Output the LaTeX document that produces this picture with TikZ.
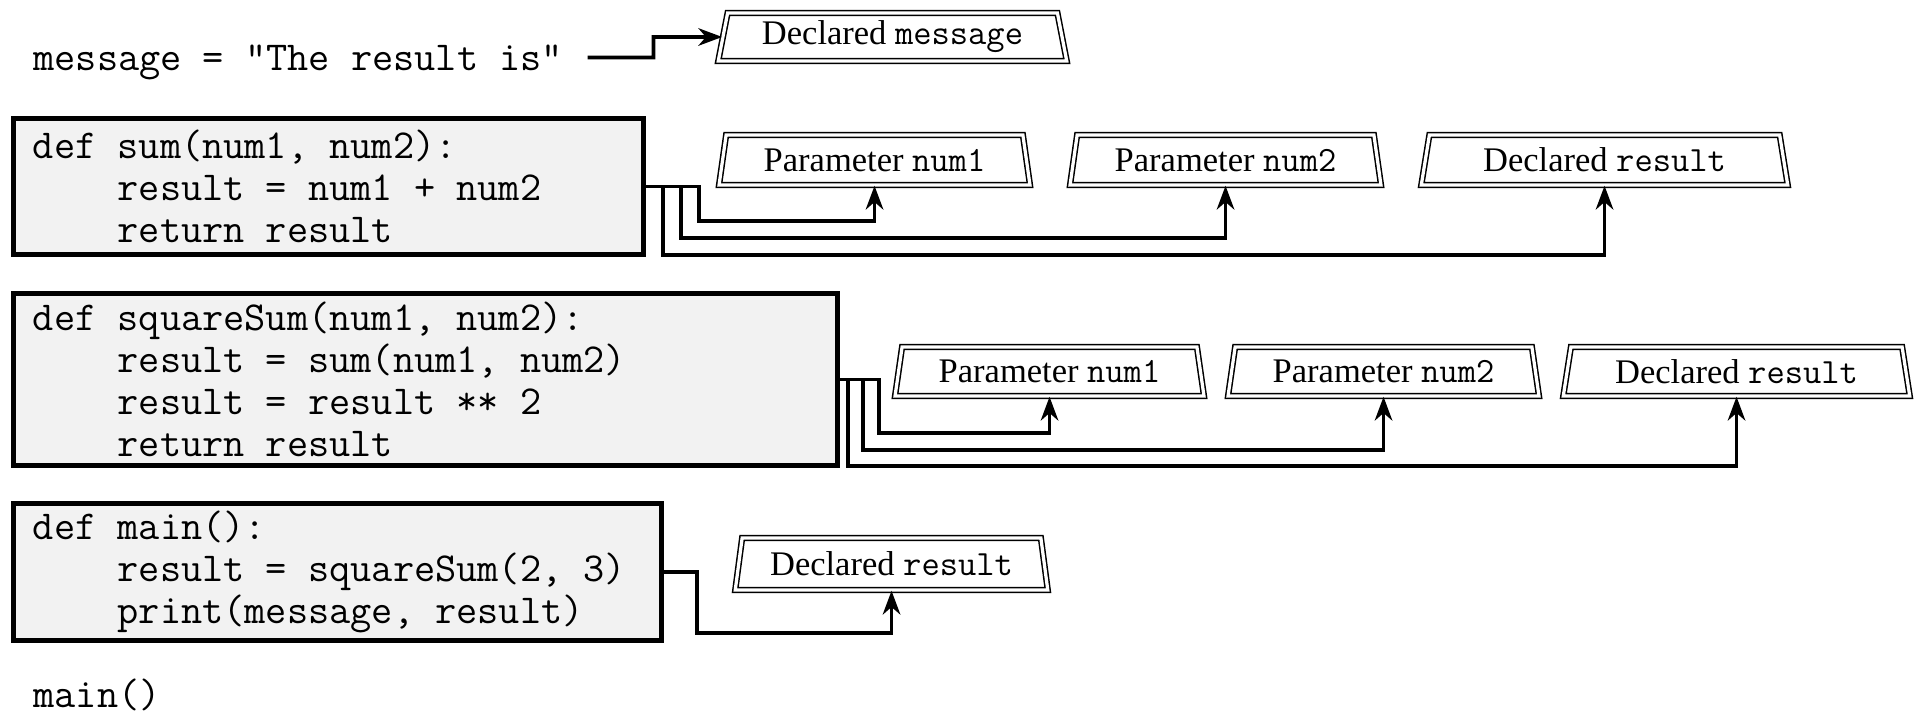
\documentclass[tikz,border=0pt]{standalone}
\usepackage{fontspec}
\setmainfont{Liberation Serif}
\setmonofont{Latin Modern Mono}[WordSpace={1,0,0}]
\usetikzlibrary{shapes.geometric,arrows.meta,calc}
\newcommand\labtt[1]{{\fontsize{14.2}{16}\selectfont\ttfamily #1}}
\newcommand\fixsp{\spaceskip=0pt\relax\xspaceskip=0pt\relax\frenchspacing}
\begin{document}
\begin{tikzpicture}[x=0.4pt,y=-0.4pt,
  codebox/.style={draw=black, line width=2pt, fill=black!5, rectangle, inner xsep=7.8pt, inner ysep=0pt, align=left, font=\fontsize{16.45}{16.8}\selectfont\ttfamily},
  codetext/.style={inner sep=0pt, anchor=base west, font=\fontsize{16.45}{16.8}\selectfont\ttfamily},
  lab/.style={trapezium, trapezium left angle=77, trapezium right angle=77, trapezium stretches=true, draw, line width=0.6pt, double, double distance=1.3pt, inner sep=0pt, font=\fontsize{13.8}{16}\selectfont},
  conn/.style={line width=1.5pt, -{Stealth[length=9.5pt,width=7pt,inset=3pt]}},
]
\useasboundingbox (0,0) rectangle (1917,713);

% top line
\node[codetext] (msg) at (33,70) {message = "The result is"};
\node[lab, minimum width=139.6pt, minimum height=19.2pt] (dm) at (892.5,37) {Declared \labtt{message}};
\draw[conn] (msg.east) ++(24,-4.5) -| ++(66,-20.5) -- (dm.west);

% sum
\node[codebox, text width=236.4pt, minimum height=54.4pt] (sumbox) at (328.5,186.5)
  {\fixsp def sum(num1, num2):\\ \phantom{0000}result = num1 + num2\\ \phantom{0000}return result};
\node[lab, minimum width=125.2pt, minimum height=20pt] (sp1) at (874.5,160) {Parameter \labtt{num1}};
\node[lab, minimum width=125.2pt, minimum height=20pt] (sp2) at (1225.5,160) {Parameter \labtt{num2}};
\node[lab, minimum width=146.8pt, minimum height=20pt] (sdr) at (1604.5,160) {Declared \labtt{result}};
\draw[conn] (sumbox.east) -| (699,221) -| (sp1.south);
\draw[conn] (sumbox.east) -| (681,238) -| (sp2.south);
\draw[conn] (sumbox.east) -| (663,255) -| (sdr.south);

% squareSum
\node[codebox, text width=314pt, minimum height=68.8pt] (sqbox) at (425.5,379.5)
  {\fixsp def squareSum(num1, num2):\\ \phantom{0000}result = sum(num1, num2)\\ \phantom{0000}result = result ** 2\\ \phantom{0000}return result};
\node[lab, minimum width=124.4pt, minimum height=19.6pt] (qp1) at (1049.5,371.5) {Parameter \labtt{num1}};
\node[lab, minimum width=125.2pt, minimum height=19.6pt] (qp2) at (1383.5,371.5) {Parameter \labtt{num2}};
\node[lab, minimum width=138.8pt, minimum height=19.6pt] (qdr) at (1736.5,371.5) {Declared \labtt{result}};
\draw[conn] (sqbox.east) -| (879,433) -| (qp1.south);
\draw[conn] (sqbox.east) -| (863,450) -| (qp2.south);
\draw[conn] (sqbox.east) -| (848,466) -| (qdr.south);

% main
\node[codebox, text width=243.6pt, minimum height=54.8pt] (mainbox) at (337.5,572)
  {\fixsp def main():\\ \phantom{0000}result = squareSum(2, 3)\\ \phantom{0000}print(message, result)};
\node[lab, minimum width=125.2pt, minimum height=20.8pt] (mdr) at (891.5,564) {Declared \labtt{result}};
\draw[conn] (mainbox.east) -| (697,633) -| (mdr.south);

\node[codetext] (call) at (33,707) {main()};
\end{tikzpicture}
\end{document}
